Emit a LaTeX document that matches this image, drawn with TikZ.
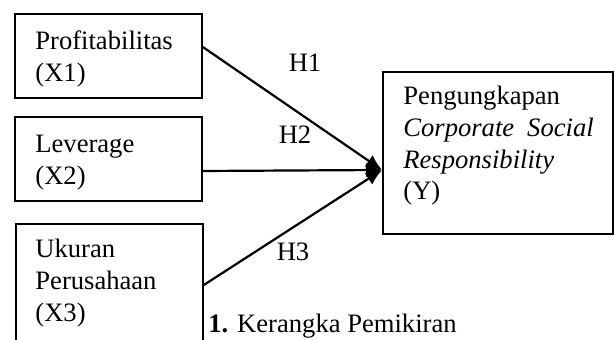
\documentclass[tikz,border=0pt]{standalone}
\usepackage{fontspec}
\setmainfont{Liberation Serif}
\usetikzlibrary{arrows.meta,calc}

\tikzset{
  varbox/.style={draw, line width=0.9pt, rectangle, anchor=north west, inner sep=0pt},
  vartext/.style={anchor=base west, align=left, inner sep=0pt},
  hyplabel/.style={inner sep=0pt},
  hyparrow/.style={line width=1.1pt, -{Latex[length=8pt,width=7pt]}}
}

\begin{document}
\begin{tikzpicture}[x=0.5pt, y=-0.5pt]
            \clip (0,0) rectangle (614,340);
            {\fontsize{13.3}{15.8}\selectfont

            % Box for X1
            \node [varbox, minimum width=93.5pt, minimum height=42pt] (x1box) at (14,13) {};%
            \node [vartext] (x1) at ($(x1box.north west)+(21,68.6)$) {Profitabilitas\\(X1)};%

            % Box for X2
            \node [varbox, minimum width=93.5pt, minimum height=42pt] (x2box) at (14,116) {};%
            \node [vartext] (x2) at ($(x2box.north west)+(21,68.6)$) {Leverage\\(X2)};%

            % Box for X3 (runs off the bottom)
            \node [varbox, minimum width=93.5pt, minimum height=65pt] (x3box) at (15,223) {};%
            \node [vartext] (x3) at ($(x3box.north west)+(20,98.2)$) {Ukuran\\Perusahaan\\(X3)};%

            % Box for Y
            \node [varbox, minimum width=115pt, minimum height=81pt] (ybox) at (382,71) {};%
            \node [vartext] (y) at ($(ybox.north west)+(21,128.8)$) {Pengungkapan\\\textit{Corporate\hspace{6.5pt}Social}\\\textit{Responsibility}\\(Y)};%

            % Ends of the arrows
            \coordinate (x1out) at ($(x1box.north east)+(0,34)$);%
            \coordinate (x2out) at ($(x2box.north east)+(0,55)$);%
            \coordinate (x3out) at ($(x3box.north east)+(0,62)$);%
            \coordinate (yin) at ($(ybox.north west)+(0,99)$);%

            % Drawing arrows H1 H2 H3
            \draw [hyparrow] (x1out) -- (yin);%
            \draw [hyparrow] (x2out) -- (yin);%
            \draw [hyparrow] (x3out) -- (yin);%

            % Hypothesis labels
            \node [hyplabel] (h1) at (305,63) {H1};%
            \node [hyplabel] (h2) at (295,135) {H2};%
            \node [hyplabel] (h3) at (293,252) {H3};%

            % Caption
            \node [anchor=base west, inner sep=0pt] (caption) at (208,333) {\textbf{1.} Kerangka Pemikiran};%
            }
\end{tikzpicture}
\end{document}
